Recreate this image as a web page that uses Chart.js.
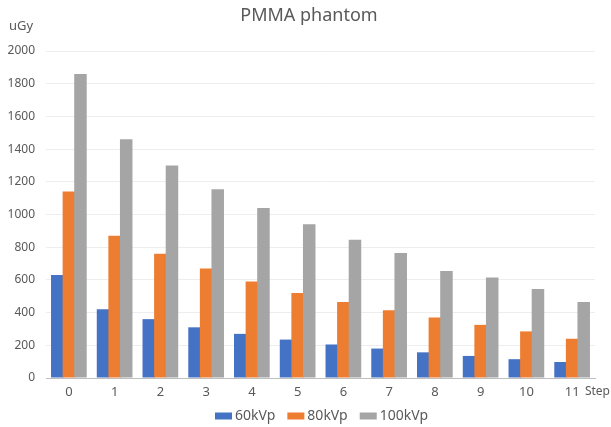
<!DOCTYPE html>
<html>
<head>
<meta charset="utf-8">
<script src="https://cdn.jsdelivr.net/npm/chart.js@4/dist/chart.umd.min.js"></script>
<style>
  html, body { margin: 0; padding: 0; background: #ffffff; }
  #wrap { width: 611px; height: 427px; }
</style>
</head>
<body>
<div id="wrap"><canvas id="c" width="611" height="427"></canvas></div>
<script>
// Dose per step for each tube voltage (uGy)
const steps = ['0', '1', '2', '3', '4', '5', '6', '7', '8', '9', '10', '11'];
const kv60 = [630, 420, 360, 310, 270, 235, 205, 180, 157, 135, 115, 98];
const kv80 = [1140, 870, 760, 670, 590, 520, 465, 415, 370, 325, 285, 240];
const kv100 = [1860, 1460, 1300, 1155, 1040, 940, 845, 765, 655, 615, 545, 465];
const seriesNames = ['60kVp', '80kVp', '100kVp'];
const seriesColors = ['#4472C4', '#ED7D31', '#A5A5A5'];

const TXT = '#595959';
const FONT = "'Noto Sans', 'Open Sans', sans-serif";

// Draw datasets first-to-last so later series sit on top of the earlier ones
const drawOrder = {
  id: 'drawOrder',
  beforeDatasetsDraw(chart) {
    const metas = chart.getSortedVisibleDatasetMetas().slice().sort((a, b) => a.index - b.index);
    for (const meta of metas) meta.controller.draw();
    return false;
  }
};

// Title, axis captions and legend
const annotations = {
  id: 'annotations',
  afterDraw(chart) {
    const ctx = chart.ctx;
    const area = chart.chartArea;
    ctx.save();
    ctx.fillStyle = TXT;
    ctx.textBaseline = 'middle';

    ctx.font = '18px ' + FONT;
    ctx.textAlign = 'center';
    ctx.fillText('PMMA phantom', 309, 16);

    ctx.font = '13px ' + FONT;
    ctx.textAlign = 'left';
    ctx.fillText('uGy', 9, 26);
    ctx.font = '12px ' + FONT;
    ctx.textAlign = 'right';
    ctx.fillText('Step', 610, 392);
    ctx.textAlign = 'left';

    // legend
    const items = chart.data.datasets;
    ctx.font = '14px ' + FONT;
    const boxW = 17, boxH = 7, gap = 3, spacing = 12;
    let x = 215;
    const y = 416;
    items.forEach((d) => {
      ctx.fillStyle = d.backgroundColor;
      ctx.fillRect(x, y - boxH / 2, boxW, boxH);
      ctx.fillStyle = TXT;
      ctx.fillText(d.label, x + boxW + gap, y);
      x += boxW + gap + ctx.measureText(d.label).width + spacing;
    });
    ctx.restore();
  }
};

const datasets = [kv60, kv80, kv100].map((vals, i) => ({
  label: seriesNames[i],
  data: vals,
  backgroundColor: seriesColors[i],
  borderWidth: 0,
  categoryPercentage: 0.76,
  barPercentage: 1.08
}));

new Chart(document.getElementById('c'), {
  type: 'bar',
  data: { labels: steps, datasets },
  options: {
    responsive: false,
    animation: false,
    devicePixelRatio: 1,
    layout: { padding: { top: 51, right: 16, bottom: 19, left: 0 } },
    plugins: {
      legend: { display: false },
      title: { display: false },
      tooltip: { enabled: false }
    },
    scales: {
      x: {
        grid: { display: false, drawTicks: false },
        border: { display: true, color: '#BFBFBF', width: 1 },
        ticks: { color: TXT, font: { family: FONT, size: 13 }, padding: 6, maxRotation: 0 },
        afterFit(scale) { scale.height = 30; }
      },
      y: {
        min: 0,
        max: 2000,
        grid: { color: '#EDEDED', drawTicks: false },
        border: { display: false },
        ticks: {
          stepSize: 200,
          color: TXT,
          font: { family: FONT, size: 12 },
          padding: 11,
          callback: (v) => String(v)
        },
        afterFit(scale) { scale.width = 46; }
      }
    }
  },
  plugins: [drawOrder, annotations]
});
</script>
</body>
</html>
